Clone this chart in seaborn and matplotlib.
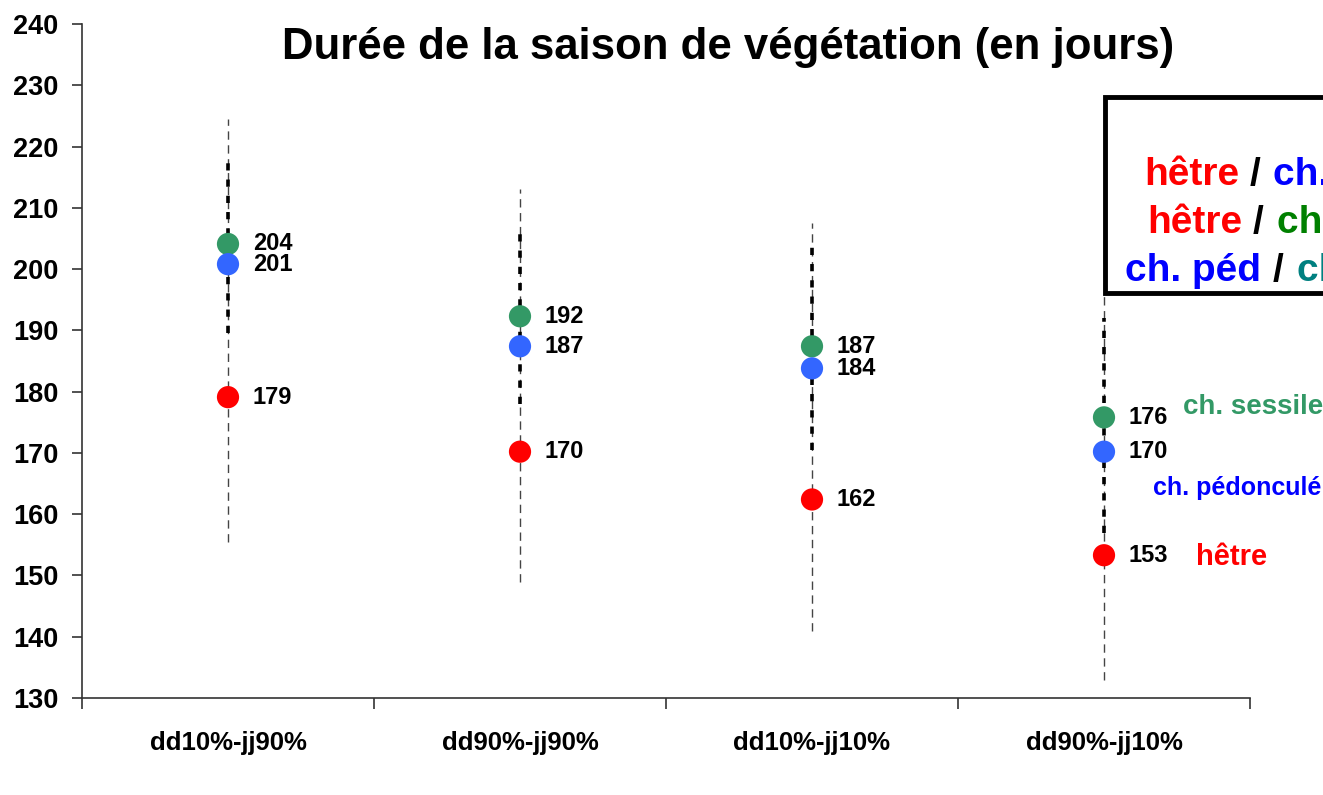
import numpy as np
import pandas as pd
import matplotlib
matplotlib.use("Agg")
import matplotlib.pyplot as plt
import seaborn as sns
from matplotlib.patches import Rectangle

# ============================
# données
# ============================
CATEGORIES = ["dd10%-jj90%", "dd90%-jj90%", "dd10%-jj10%", "dd90%-jj10%"]
SPECIES = ["ch. sessile", "ch. pédonculé", "hêtre"]

SESSILE = [204.1, 192.3, 187.4, 175.8]
PEDONCULE = [200.8, 187.4, 183.8, 170.2]
HETRE = [179.1, 170.2, 162.4, 153.3]

# plages (traits fins / traits épais)
RANGE_LOW = [155.5, 149.0, 141.0, 133.0]
RANGE_HIGH = [224.5, 213.0, 207.5, 205.0]
CHENE_LOW = [189.5, 178.0, 170.5, 157.0]
CHENE_HIGH = [218.0, 206.0, 204.0, 192.0]

COLORS = {"ch. sessile": "#339966", "ch. pédonculé": "#3366FF", "hêtre": "#FF0000"}

# ============================
# style
# ============================
sns.set_style("white")
plt.rcParams["font.family"] = ["Liberation Sans", "DejaVu Sans"]
plt.rcParams["font.weight"] = "bold"
plt.rcParams["text.color"] = "black"
plt.rcParams["xtick.color"] = "black"
plt.rcParams["ytick.color"] = "black"

W, H = 1323, 795


def fx(px):
    return px / W


def fy(py):
    return 1 - py / H


df = pd.DataFrame({
    "periode": CATEGORIES * 3,
    "duree": SESSILE + PEDONCULE + HETRE,
    "espece": [s for s in SPECIES for _ in CATEGORIES],
})

fig = plt.figure(figsize=(W / 100, H / 100), dpi=100)
ax = fig.add_axes([fx(82), fy(698), fx(1250) - fx(82), fy(24) - fy(698)])

xs = np.arange(len(CATEGORIES))
ax.vlines(xs, RANGE_LOW, RANGE_HIGH, colors="#444444", linewidth=1.0,
          linestyles=(0, (6, 4)), zorder=1)
ax.vlines(xs, CHENE_LOW, CHENE_HIGH, colors="black", linewidth=2.6,
          linestyles=(0, (2, 2.5)), zorder=2)

sns.stripplot(data=df, x="periode", y="duree", hue="espece", order=CATEGORIES,
              hue_order=SPECIES, palette=COLORS, jitter=False, dodge=False,
              size=16, linewidth=0, legend=False, ax=ax, zorder=3)

for serie in (SESSILE, PEDONCULE, HETRE):
    for i, v in enumerate(serie):
        ax.annotate(f"{v:.0f}", (i, v), xytext=(18, 0), textcoords="offset points",
                    ha="left", va="center", fontsize=17, fontweight="bold",
                    color="black")

ax.set_xlim(-0.5, 3.5)
ax.set_ylim(130, 240)
ax.set_yticks(np.arange(130, 241, 10))
ax.set_xticks(xs)
ax.set_xticklabels(CATEGORIES)
ax.set_xticks(np.arange(-0.5, 3.6, 1), minor=True)
ax.tick_params(axis="y", length=7, width=1.2, direction="out", labelsize=19.5,
               left=True, color="#333333", pad=10)
ax.tick_params(axis="x", which="major", length=0, labelsize=18.5, pad=24)
ax.tick_params(axis="x", which="minor", length=8, width=1.2, direction="out",
               bottom=True, color="#333333")
ax.set_xlabel("")
ax.set_ylabel("")
for side in ("top", "right"):
    ax.spines[side].set_visible(False)
for side in ("left", "bottom"):
    ax.spines[side].set_color("#333333")
    ax.spines[side].set_linewidth(1.2)

# titre
fig.text(fx(728), fy(48), "Durée de la saison de végétation (en jours)",
         ha="center", va="center", fontsize=31.5, fontweight="bold")

# encadré (coupé à droite comme dans l'original)
fig.patches.append(Rectangle((fx(1105), fy(293)), 0.2, fy(97) - fy(293),
                             transform=fig.transFigure, facecolor="white",
                             edgecolor="black", linewidth=3.5, zorder=2))
box_lines = [
    (185, [(1144, "hêtre", "#FF0000"), (1250, "/", "black"), (1273, "ch. péd", "#0000FF")]),
    (233, [(1147, "hêtre", "#FF0000"), (1253, "/", "black"), (1277, "ch. sess", "#008000")]),
    (281, [(1125, "ch. péd", "#0000FF"), (1273, "/", "black"), (1297, "ch. sess", "#008080")]),
]
for y, pieces in box_lines:
    for x, txt, col in pieces:
        fig.text(fx(x), fy(y), txt, ha="left", va="baseline", fontsize=28,
                 fontweight="bold", color=col, zorder=3)

# étiquettes des espèces
fig.text(fx(1183), fy(407), "ch. sessile", ha="left", va="center", fontsize=20,
         fontweight="bold", color="#339966")
fig.text(fx(1153), fy(488), "ch. pédonculé", ha="left", va="center", fontsize=18,
         fontweight="bold", color="#0000FF")
fig.text(fx(1196), fy(557), "hêtre", ha="left", va="center", fontsize=21,
         fontweight="bold", color="#FF0000")

fig.savefig("out.png", dpi=100, facecolor="white")
